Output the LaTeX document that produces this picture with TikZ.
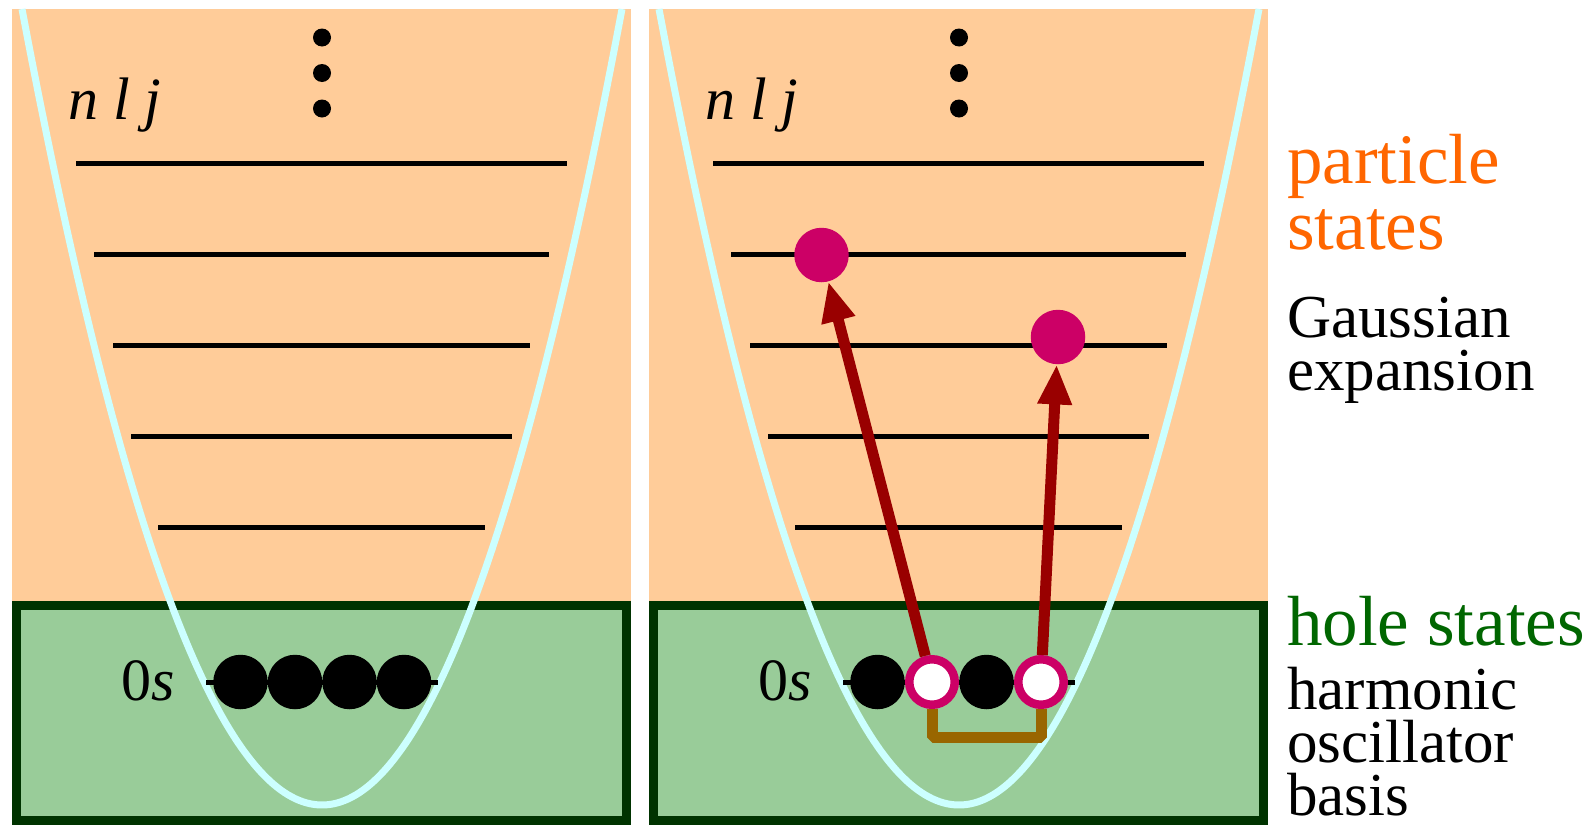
\documentclass[tikz,border=0pt]{standalone}
\usepackage{fontspec}
\setmainfont{Liberation Serif}
\usetikzlibrary{arrows.meta}
\definecolor{peach}{HTML}{FFCC99}
\definecolor{holegreen}{HTML}{99CC99}
\definecolor{darkframe}{HTML}{003300}
\definecolor{wellcyan}{HTML}{CCFFFF}
\definecolor{partorange}{HTML}{FF6600}
\definecolor{holetext}{HTML}{006600}
\definecolor{jumpred}{HTML}{990000}
\definecolor{pairbrown}{HTML}{996600}
\definecolor{pmagenta}{HTML}{CC0066}
\tikzstyle{holebox} = [fill=holegreen, draw=darkframe, line width=9pt]
\tikzstyle{well} = [draw=wellcyan, line width=7pt]
\tikzstyle{shell} = [line width=5pt]
\tikzstyle{occ} = [circle, fill=black, minimum size=54.5pt, inner sep=0pt]
\tikzstyle{hole} = [circle, draw=pmagenta, fill=white, line width=8.5pt, minimum size=45.5pt, inner sep=0pt]
\tikzstyle{particle} = [circle, fill=pmagenta, minimum size=54.5pt, inner sep=0pt]
\tikzstyle{jump} = [draw=jumpred, line width=11pt, -{Triangle[length=40pt,width=32pt]}]
\tikzstyle{pairline} = [draw=pairbrown, line width=11pt, line join=bevel]
\tikzstyle{qlabel} = [font=\fontsize{60}{60}\selectfont, inner sep=0pt]
\tikzstyle{bigtxt} = [font=\fontsize{71}{66}\selectfont, align=left, inner sep=0pt, anchor=base west]
\tikzstyle{smalltxt} = [font=\fontsize{61}{53}\selectfont, align=left, inner sep=0pt, anchor=base west]

\begin{document}
\begin{tikzpicture}[x=1pt, y=-1pt]
  \useasboundingbox (0,0) rectangle (1592,825);

  % left panel: filled 0s shell
  \fill[peach] (12,9) rectangle (631,825);
  \draw[holebox] (16.5,605.5) rectangle (626.5,820.5);
  \draw[well] plot[domain=-300:300, samples=80, smooth] ({322+\x},{805-88.44*(\x/100)^2});
  \draw[shell] (76,163) -- (567,163);
  \draw[shell] (94,254) -- (549,254);
  \draw[shell] (113,345) -- (530,345);
  \draw[shell] (131,436) -- (512,436);
  \draw[shell] (158,527) -- (485,527);
  \draw[shell] (206,682) -- (438,682);
  \fill (322,37.5) circle (9pt) (322,73) circle (9pt) (322,108.5) circle (9pt);
  \node[qlabel, anchor=base west] (lnlj) at (68,119) {\textit{n l j}};
  \node[qlabel, anchor=base east] (l0s) at (175,700) {0\textit{s}};
  \node[occ] (lb1) at (240.5,682) {};
  \node[occ] (lb2) at (295,682) {};
  \node[occ] (lb3) at (349.5,682) {};
  \node[occ] (lb4) at (404,682) {};

  % right panel: two holes lifted to particle states
  \begin{scope}[xshift=637pt]
    \fill[peach] (12,9) rectangle (631,825);
    \draw[holebox] (16.5,605.5) rectangle (626.5,820.5);
    \draw[well] plot[domain=-300:300, samples=80, smooth] ({322+\x},{805-88.44*(\x/100)^2});
    \draw[shell] (76,163) -- (567,163);
    \draw[shell] (94,254) -- (549,254);
    \draw[shell] (113,345) -- (530,345);
    \draw[shell] (131,436) -- (512,436);
    \draw[shell] (158,527) -- (485,527);
    \draw[shell] (206,682) -- (438,682);
    \fill (322,37.5) circle (9pt) (322,73) circle (9pt) (322,108.5) circle (9pt);
    \node[qlabel, anchor=base west] (rnlj) at (68,119) {\textit{n l j}};
    \node[qlabel, anchor=base east] (r0s) at (175,700) {0\textit{s}};
    \node[occ] (rb1) at (240.5,682) {};
    \node[hole] (rh1) at (295,682) {};
    \node[occ] (rb2) at (349.5,682) {};
    \node[hole] (rh2) at (404,682) {};
    \node[particle] (rp1) at (184.5,255) {};
    \node[particle] (rp2) at (421,337) {};
  \end{scope}
  \draw[pairline] (rh1.south) -- ++(0,28) -| (rh2.south);
  \draw[jump] (rh1) -- (rp1);
  \draw[jump] (rh2) -- (rp2);

  % labels on the right (base = last line)
  \node[bigtxt, text=partorange] (plbl) at (1287,249) {particle\\states};
  \node[smalltxt] (gauss) at (1287,390) {Gaussian\\expansion};
  \node[bigtxt, text=holetext] (hlbl) at (1287,645) {hole states};
  \node[smalltxt] (hobasis) at (1287,815) {harmonic\\oscillator\\basis};
\end{tikzpicture}
\end{document}
